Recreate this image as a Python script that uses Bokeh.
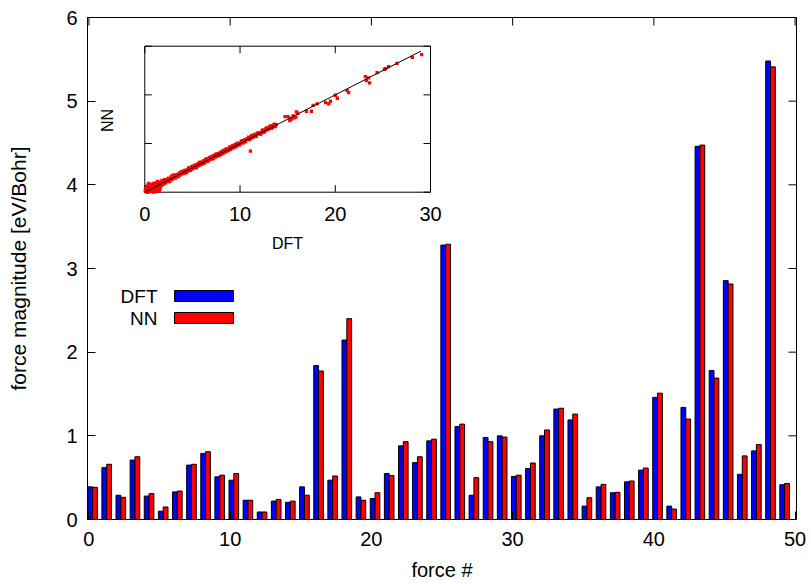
from math import pi
from bokeh.plotting import figure
from bokeh.models import Range1d, FixedTicker, Label, BoxAnnotation
from bokeh.embed import file_html
from bokeh.resources import INLINE
from bokeh.core.properties import value

# ---------------- data ----------------
force_index = list(range(50))
dft = [0.39, 0.62, 0.29, 0.71, 0.28, 0.10, 0.33, 0.65, 0.79, 0.51,
       0.47, 0.23, 0.09, 0.22, 0.205, 0.39, 1.84, 0.47, 2.145, 0.27,
       0.25, 0.55, 0.88, 0.68, 0.94, 3.28, 1.11, 0.29, 0.98, 1.00,
       0.515, 0.61, 1.00, 1.32, 1.19, 0.16, 0.39, 0.32, 0.45, 0.59,
       1.46, 0.16, 1.34, 4.46, 1.78, 2.855, 0.54, 0.82, 5.48, 0.415]
nn = [0.385, 0.66, 0.265, 0.75, 0.31, 0.15, 0.34, 0.66, 0.81, 0.53,
      0.55, 0.23, 0.09, 0.24, 0.22, 0.29, 1.775, 0.52, 2.40, 0.23,
      0.32, 0.525, 0.93, 0.75, 0.96, 3.29, 1.14, 0.50, 0.93, 0.985,
      0.53, 0.675, 1.07, 1.33, 1.26, 0.26, 0.42, 0.325, 0.46, 0.615,
      1.51, 0.125, 1.20, 4.475, 1.69, 2.815, 0.76, 0.895, 5.41, 0.43]
x_ticks = [0, 10, 20, 30, 40, 50]
y_ticks = [0, 1, 2, 3, 4, 5, 6]

# inset: NN vs DFT force components
inset_dft = [0.05, 0.1, 0.15, 0.2, 0.25, 0.3, 0.35, 0.4, 0.45, 0.5, 0.55, 0.6, 0.65, 0.7, 0.8,
             0.85, 0.9, 0.95, 1.0, 1.1, 1.2, 1.3, 1.35, 1.4, 1.5, 1.6, 1.7, 1.8, 1.9, 2.0,
             2.1, 2.2, 2.3, 2.4, 2.5, 2.6, 2.7, 2.8, 2.9, 3.0, 3.1, 3.2, 3.3, 3.4, 3.5,
             3.6, 3.7, 3.8, 3.9, 4.0, 4.1, 4.2, 4.3, 4.4, 4.5, 4.6, 4.7, 4.8, 4.9, 5.0,
             5.1, 5.2, 5.3, 5.4, 5.5, 5.6, 5.7, 5.8, 5.9, 6.0, 6.1, 6.2, 6.3, 6.4, 6.5,
             6.6, 6.7, 6.8, 6.9, 7.0, 7.1, 7.2, 7.3, 7.4, 7.5, 7.6, 7.7, 7.8, 7.9, 8.0,
             8.2, 8.3, 8.4, 8.5, 8.6, 8.8, 8.9, 9.0, 9.2, 9.3, 9.5, 9.6, 9.8, 9.9, 10.1,
             10.3, 10.5, 10.6, 10.8, 11.0, 11.2, 11.3, 11.5, 11.7, 11.9, 12.1, 12.3, 12.5, 12.7, 12.9,
             13.1, 13.3, 13.5, 13.7, 11.09, 1.2, 1.5, 0.9, 1.6,
             0.1, 0.2, 0.3, 0.4, 0.5, 0.6, 0.7, 0.8, 0.9, 1.0, 1.1, 1.2, 1.3, 1.4, 1.5,
             1.6, 1.7, 1.8, 1.9, 2.0, 2.2, 2.4, 2.6, 2.8, 3.0, 3.2, 3.4, 3.6, 3.8, 4.0,
             4.2, 4.4, 4.6, 4.8, 5.0, 5.2, 5.4, 5.6, 5.8, 6.0, 6.2, 6.4, 6.6, 6.8, 7.0,
             7.2, 7.4, 7.6, 7.8, 8.0, 8.1, 8.3, 8.5, 8.7, 8.9, 9.1, 9.3, 9.5, 9.7, 10.0,
             10.2, 10.4, 10.7, 10.9, 11.1, 11.4, 11.6, 11.8, 12.0, 12.2, 12.4, 12.6, 12.8, 13.0, 13.2,
             13.4, 13.6, 13.8,
             14.73, 15.05, 15.22, 15.39, 15.57, 15.71, 15.88, 15.92, 16.06, 16.97, 17.49, 17.67, 18.09,
             18.99, 19.31, 19.49, 20.01, 20.22, 21.24, 21.41, 23.16, 23.26, 23.5, 23.61, 24.39,
             25.15, 25.29, 25.6, 26.48, 28.09, 29.07]
inset_nn = [0.3, 0.8, 0.1, 1.2, 0.5, 0.0, 1.5, 0.7, 0.2, 1.0, 0.4, 1.6, 0.9, 0.3, 1.3,
            0.6, 1.8, 1.0, 0.5, 1.6, 0.9, 1.5, 2.2, 0.8, 1.3, 1.9, 1.4, 2.4, 1.7, 2.1,
            2.6, 1.9, 2.5, 2.2, 2.9, 2.4, 2.8, 3.3, 2.7, 3.1, 3.5, 2.9, 3.4, 3.6, 3.2,
            3.9, 3.5, 3.7, 4.2, 3.8, 4.2, 4.5, 4.0, 4.6, 4.3, 4.9, 4.5, 4.8, 5.2, 4.8,
            5.3, 5.0, 5.6, 5.2, 5.6, 5.9, 5.5, 6.0, 5.7, 6.2, 5.9, 6.5, 6.1, 6.6, 6.3,
            6.9, 6.5, 6.8, 7.2, 6.8, 7.4, 7.0, 7.5, 7.2, 7.8, 7.4, 7.9, 7.6, 8.1, 7.8,
            8.5, 8.1, 8.6, 8.3, 8.9, 8.6, 9.1, 8.8, 9.5, 9.1, 9.8, 9.4, 10.0, 9.7, 10.4,
            10.1, 10.8, 10.4, 11.0, 10.8, 11.6, 11.2, 11.9, 11.5, 12.2, 11.9, 12.6, 12.3, 13.0, 12.8,
            13.4, 13.1, 13.8, 13.5, 8.42, 0.1, 0.3, 0.0, 0.6,
            0.5, 0.0, 0.9, 1.8, 0.1, 0.6, 1.1, 0.2, 0.7, 1.4, 0.4, 1.9, 0.8, 1.4, 2.0,
            1.1, 1.9, 1.5, 2.3, 1.7, 2.4, 2.7, 2.2, 2.6, 3.5, 3.3, 3.2, 3.5, 4.1, 4.3,
            4.0, 4.2, 5.0, 4.5, 5.3, 5.4, 5.0, 5.4, 6.2, 5.8, 6.0, 6.8, 6.4, 7.1, 7.2,
            6.9, 7.7, 7.8, 7.5, 8.3, 7.9, 8.6, 8.8, 8.5, 9.3, 9.0, 9.6, 9.3, 10.1, 9.9,
            10.6, 10.3, 10.9, 11.3, 11.0, 11.6, 11.4, 12.1, 12.2, 12.0, 12.8, 12.5, 13.2, 13.0, 13.6,
            13.3, 14.0, 13.9,
            15.54, 15.54, 14.72, 15.0, 15.69, 15.27, 15.41, 16.5, 16.22, 16.63, 16.63, 17.86, 18.15,
            18.42, 18.15, 18.69, 19.92, 19.3, 20.88, 20.47, 23.76, 22.94, 23.49, 22.46, 24.58,
            25.26, 25.4, 25.81, 26.49, 27.72, 28.28]
fit_x = [0, 29]
fit_y = [0, 29]
inset_ticks = [0, 10, 20, 30]

# ---------------- layout constants ----------------
W, H = 811, 584
FL, FR, FT, FB = 87, 796, 17, 519          # main frame in pixels
XLIM = (-0.1, 50.1)
YLIM = (0.0, 6.0)
IL, IR, IT, IB = 144.3, 430.0, 45.7, 191.7  # inset frame in pixels
IXLIM = (0.0, 30.0)
IYLIM = (0.0, 30.0)
FONT = "Liberation Sans"
TICK = 8  # px


def mx(px):
    return XLIM[0] + (px - FL) / (FR - FL) * (XLIM[1] - XLIM[0])


def my(py):
    return YLIM[0] + (FB - py) / (FB - FT) * (YLIM[1] - YLIM[0])


mxs = (XLIM[1] - XLIM[0]) / (FR - FL)
mys = (YLIM[1] - YLIM[0]) / (FB - FT)
ixs = (IXLIM[1] - IXLIM[0]) / (IR - IL)   # inset units per pixel
iys = (IYLIM[1] - IYLIM[0]) / (IB - IT)
ix_start = IXLIM[0] - (IL - FL) * ixs
ix_end = ix_start + (FR - FL) * ixs
iy_start = IYLIM[0] - (FB - IB) * iys
iy_end = iy_start + (FB - FT) * iys


def ix(px):
    return IXLIM[0] + (px - IL) * ixs


def iy(py):
    return IYLIM[0] + (IB - py) * iys


p = figure(width=W, height=H, x_range=Range1d(*XLIM), y_range=Range1d(*YLIM),
           output_backend="svg", toolbar_location=None,
           min_border_left=FL, min_border_right=W - FR,
           min_border_top=FT, min_border_bottom=H - FB)
p.extra_x_ranges = {"ix": Range1d(ix_start, ix_end)}
p.extra_y_ranges = {"iy": Range1d(iy_start, iy_end)}
p.grid.visible = False
p.outline_line_color = "black"
p.outline_line_width = 1
p.background_fill_color = "white"
p.border_fill_color = "white"


def style_axis(ax, ticks):
    ax.ticker = FixedTicker(ticks=ticks)
    ax.minor_tick_line_color = None
    ax.major_tick_in = TICK
    ax.major_tick_out = 0
    ax.major_tick_line_color = "black"
    ax.axis_line_color = "black"
    ax.major_label_text_font = FONT
    ax.major_label_text_color = "black"
    ax.major_label_text_font_size = "20px"
    ax.axis_label_text_font = FONT
    ax.axis_label_text_font_style = "normal"
    ax.axis_label_text_color = "black"


style_axis(p.xaxis[0], x_ticks)
p.xaxis[0].axis_label = "force #"
p.xaxis[0].axis_label_text_font_size = "20px"
p.xaxis[0].major_label_standoff = 12
p.xaxis[0].axis_label_standoff = 10
style_axis(p.yaxis[0], y_ticks)
p.yaxis[0].axis_label = "force magnitude [eV/Bohr]"
p.yaxis[0].axis_label_text_font_size = "21px"
p.yaxis[0].major_label_standoff = 10
p.yaxis[0].axis_label_standoff = 33

# mirrored ticks on the top and right borders
p.segment(x0=x_ticks, y0=[YLIM[1]] * len(x_ticks), x1=x_ticks,
          y1=[YLIM[1] - TICK * mys] * len(x_ticks), line_color="black", line_width=1)
p.segment(x0=[XLIM[1]] * len(y_ticks), y0=y_ticks, x1=[XLIM[1] - TICK * mxs] * len(y_ticks),
          y1=y_ticks, line_color="black", line_width=1)

# ---------------- bars ----------------
BW = 0.34
blue_x = [i + 0.09 for i in force_index]
red_x = [i + 0.09 + BW for i in force_index]
p.vbar(x=blue_x, top=dft, bottom=0, width=BW, fill_color="#0000ff", line_color="black", line_width=1)
p.vbar(x=red_x, top=nn, bottom=0, width=BW, fill_color="#ff0000", line_color="black", line_width=1)

# ---------------- legend (key) ----------------
for lab, col, cy in (("DFT", "#0000ff", 295.5), ("NN", "#ff0000", 317.5)):
    p.add_layout(Label(x=mx(157), y=my(cy), text=lab, text_align="right", text_baseline="middle",
                       text_font=FONT, text_font_size="19px", text_color="black"))
    p.add_layout(BoxAnnotation(left=mx(174), right=mx(233), top=my(cy - 5.5), bottom=my(cy + 5.5),
                               fill_color=col, fill_alpha=1, line_color="black", line_alpha=1,
                               line_width=1))

# ---------------- inset ----------------
R = dict(x_range_name="ix", y_range_name="iy")
n = len(inset_ticks)
p.quad(left=[IXLIM[0]], right=[IXLIM[1]], bottom=[IYLIM[0]], top=[IYLIM[1]],
       fill_color="white", line_color="black", line_width=1, **R)
tlx = 7 * ixs
tly = 7 * iys
p.segment(x0=inset_ticks, y0=[IYLIM[0]] * n, x1=inset_ticks, y1=[IYLIM[0] + tly] * n, line_color="black", **R)
p.segment(x0=inset_ticks, y0=[IYLIM[1]] * n, x1=inset_ticks, y1=[IYLIM[1] - tly] * n, line_color="black", **R)
p.segment(x0=[IXLIM[0]] * n, y0=inset_ticks, x1=[IXLIM[0] + tlx] * n, y1=inset_ticks, line_color="black", **R)
p.segment(x0=[IXLIM[1]] * n, y0=inset_ticks, x1=[IXLIM[1] - tlx] * n, y1=inset_ticks, line_color="black", **R)
p.text(x=inset_ticks, y=[iy(213)] * n, text=[str(t) for t in inset_ticks],
       text_align="center", text_baseline="middle", text_font=value(FONT),
       text_font_size="20px", text_color="black", **R)
p.add_layout(Label(x=ix(287), y=iy(243), text="DFT", text_align="center", text_baseline="middle",
                   text_font=FONT, text_font_size="16px", text_color="black", **R))
p.add_layout(Label(x=ix(107), y=iy(120), text="NN", text_align="center", text_baseline="middle",
                   angle=pi / 2, text_font=FONT, text_font_size="16px", text_color="black", **R))
p.scatter(x=inset_dft, y=inset_nn, marker="square", size=3.3, fill_color="#ff0000",
          line_color=None, **R)
p.line(x=fit_x, y=fit_y, line_color="black", line_width=1, **R)

open("out.html", "w").write(file_html(p, INLINE))
